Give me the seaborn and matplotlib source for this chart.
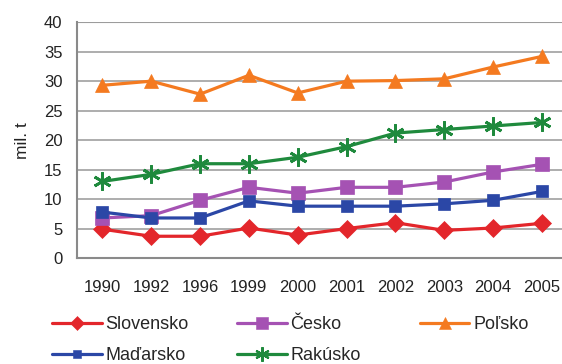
import matplotlib
matplotlib.use("Agg")
import matplotlib.pyplot as plt
import seaborn as sns
import pandas as pd
from matplotlib.lines import Line2D

years = ["1990", "1992", "1996", "1999", "2000", "2001", "2002", "2003", "2004", "2005"]
slovensko = [4.9, 3.7, 3.7, 5.1, 3.9, 5.0, 6.0, 4.7, 5.1, 5.9]
cesko = [6.8, 7.2, 9.8, 12.0, 11.0, 12.0, 12.0, 12.9, 14.6, 15.9]
polsko = [29.3, 30.0, 27.8, 31.0, 28.0, 30.0, 30.1, 30.4, 32.4, 34.2]
madarsko = [7.8, 6.8, 6.8, 9.7, 8.8, 8.8, 8.8, 9.2, 9.8, 11.3]
rakusko = [13.0, 14.2, 16.0, 16.0, 17.1, 18.9, 21.2, 21.8, 22.4, 23.0]

series = [
    ("Slovensko", slovensko, "#e3262b", "D", 9),
    ("Česko", cesko, "#a552b3", "s", 10),
    ("Poľsko", polsko, "#f47a20", "^", 10),
    ("Maďarsko", madarsko, "#2b47a6", "s", 8),
    ("Rakúsko", rakusko, "#1f8a3d", (6, 2, 0), 13),
]

sns.set_style("white")
plt.rcParams['font.family'] = ['Liberation Sans', 'DejaVu Sans']

fig = plt.figure(figsize=(5.62, 3.64), dpi=100)
ax = fig.add_axes([0.137, 0.291, 0.863, 0.648])

rows = []
for name, vals, col, m, ms in series:
    for y, v in zip(years, vals):
        rows.append({"rok": y, "hodnota": v, "krajina": name})
df = pd.DataFrame(rows)

handles = {}
for name, vals, col, m, ms in series:
    sub = df[df["krajina"] == name]
    mew = 2.0 if isinstance(m, tuple) else 0.5
    sns.lineplot(data=sub, x="rok", y="hodnota", ax=ax, color=col, lw=2.3,
                 marker=m, markersize=ms, markeredgecolor=col, markeredgewidth=mew,
                 sort=False, legend=False)
    handles[name] = Line2D([], [], color=col, lw=2.3, marker=m, markersize=ms * 0.8,
                           markeredgecolor=col, markeredgewidth=mew * 0.8)

ax.set_ylim(0, 40)
ax.set_xlim(-0.52, 9.41)
ax.set_yticks(range(0, 41, 5))
ax.set_xticks(range(len(years)))
ax.set_xticklabels(years)
ax.yaxis.grid(True, color="#a0a0a0", lw=1.2)
ax.set_axisbelow(True)
for s in ["top", "right"]:
    ax.spines[s].set_visible(False)
for s in ["left", "bottom"]:
    ax.spines[s].set_color("#8a8a8a")
    ax.spines[s].set_linewidth(1.5)
ax.axhline(40, color="#8a8a8a", lw=1.5, zorder=0)

# category-boundary ticks on x axis
ax.set_xticks([i + 0.5 for i in range(len(years) - 1)], minor=True)
ax.tick_params(axis="x", which="major", length=0, pad=16, labelsize=12, colors="#222222")
ax.tick_params(axis="x", which="minor", length=5, width=1.3, color="#8a8a8a", direction="out")
ax.tick_params(axis="y", length=4.5, width=1.3, color="#8a8a8a", labelsize=12, labelcolor="#222222", pad=6)
ax.set_xlabel("")
ax.set_ylabel("mil. t", fontsize=12.5, color="#222222", labelpad=10)

columns = [(["Slovensko", "Maďarsko"], 0.0925), (["Česko", "Rakúsko"], 0.4217), (["Poľsko"], 0.747)]
for names, x0 in columns:
    leg = fig.legend([handles[n] for n in names], names, loc="upper left",
                     bbox_to_anchor=(x0, 0.132), frameon=False, fontsize=13,
                     handlelength=2.75, handletextpad=0.22, labelspacing=0.8,
                     borderpad=0, borderaxespad=0)

fig.savefig("out.png", dpi=100)
